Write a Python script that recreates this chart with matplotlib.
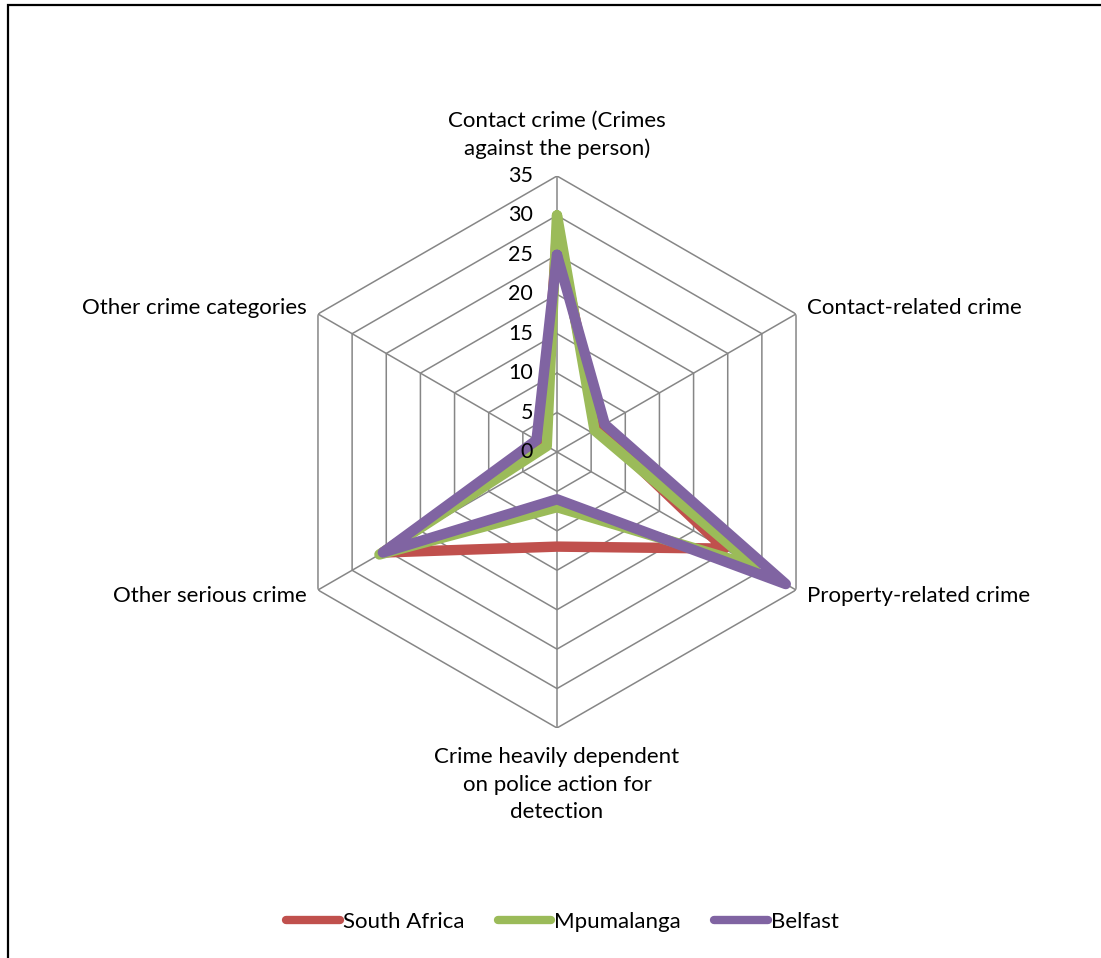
import numpy as np
import matplotlib.pyplot as plt
from matplotlib.patches import Rectangle

plt.rcParams['font.family'] = ['Lato', 'DejaVu Sans']

categories = ['Contact crime (Crimes\nagainst the person)', 'Contact-related crime',
              'Property-related crime', 'Crime heavily dependent\non police action for\ndetection',
              'Other serious crime', 'Other crime categories']
south_africa = [28, 6, 24.5, 12, 25.5, 2]
mpumalanga = [30, 5.5, 29, 7, 26, 1.5]
belfast = [25, 7, 33.5, 6, 25.5, 3]
series = [('South Africa', south_africa, '#c0504d'),
          ('Mpumalanga', mpumalanga, '#9bbb59'),
          ('Belfast', belfast, '#8064a2')]
rings = [5, 10, 15, 20, 25, 30, 35]
rmax = 35

fig = plt.figure(figsize=(11.01, 9.58), dpi=100)
ax = fig.add_axes([0.2552, 0.2401, 0.5014, 0.5762], projection='polar')
ax.set_theta_offset(np.pi / 2)
ax.set_theta_direction(-1)
ax.set_ylim(0, rmax)
ax.grid(False)
ax.spines['polar'].set_visible(False)
ax.set_xticks([])
ax.set_yticks([])
ax.patch.set_alpha(0)

n = len(categories)
theta = np.linspace(0, 2 * np.pi, n, endpoint=False)
closed = np.append(theta, theta[0])

# hexagonal web and spokes
grid_c = '#868686'
for r in rings:
    ax.plot(closed, [r] * (n + 1), color=grid_c, lw=1.1, zorder=1)
for t in theta:
    ax.plot([t, t], [0, rmax], color=grid_c, lw=1.1, zorder=1)

for name, vals, c in series:
    ax.plot(closed, list(vals) + [vals[0]], color=c, lw=7.5, solid_joinstyle='round',
            solid_capstyle='round', zorder=3, label=name)

# radial scale labels
for r in [0] + rings:
    ax.annotate(str(r), xy=(0, r), xytext=(-24, 0), textcoords='offset pixels',
                ha='right', va='center', fontsize=15.5, zorder=4)

# category labels
label_pos = [((0, 17), 'center', 'bottom'), ((11, 6), 'left', 'center'),
             ((11, -6), 'left', 'center'), ((0, -19), 'center', 'top'),
             ((-11, -6), 'right', 'center'), ((-11, 6), 'right', 'center')]
for t, lab, (off, ha, va) in zip(theta, categories, label_pos):
    ax.annotate(lab, xy=(t, rmax), xytext=off, textcoords='offset pixels',
                ha=ha, va=va, fontsize=16, linespacing=1.47, multialignment='center')

leg = fig.legend(loc='center', bbox_to_anchor=(0.511, 0.038), ncol=3, frameon=False,
                 fontsize=16, handlelength=2.4, handletextpad=0.15, columnspacing=1.5)
for h in leg.get_lines():
    h.set_linewidth(6)
    h.set_solid_capstyle('round')

fig.patches.append(Rectangle((8 / 1101, -0.05), 1.2, 1.05 - 5 / 958, transform=fig.transFigure,
                             fill=False, edgecolor='black', lw=1.6))

fig.savefig('out.png', dpi=100)
